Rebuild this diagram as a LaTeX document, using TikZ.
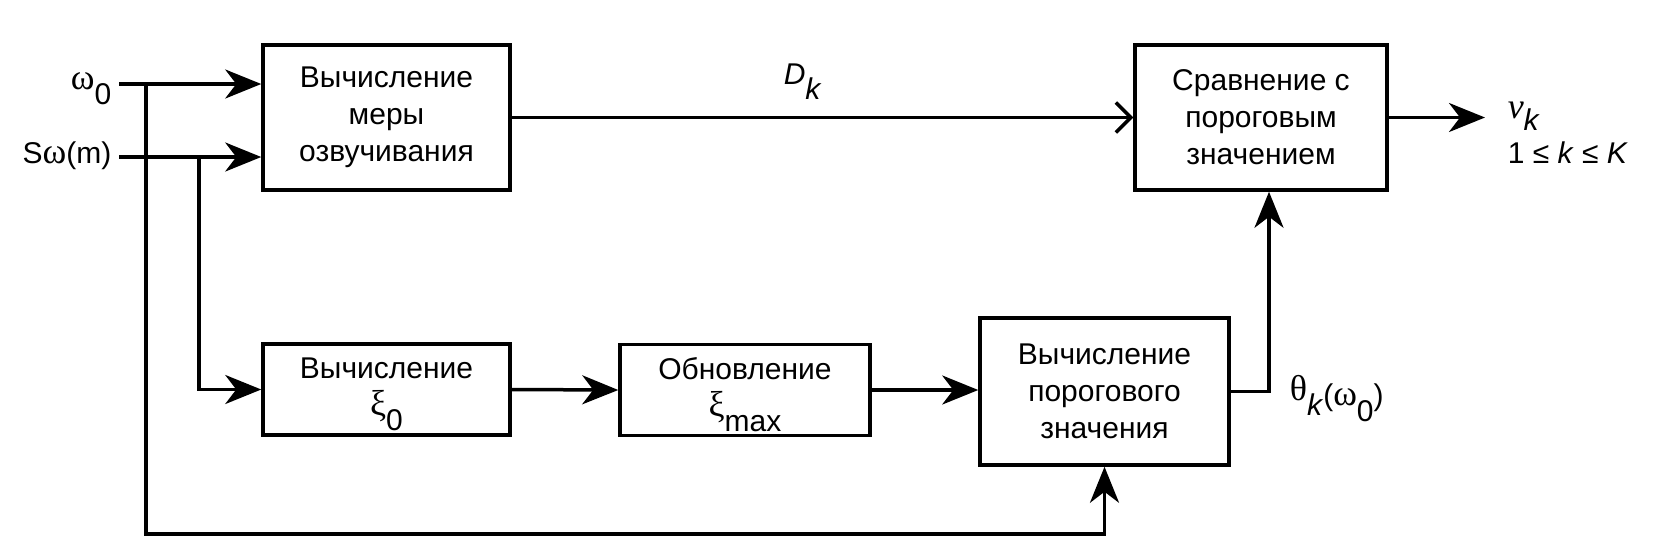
\documentclass[tikz,border=0pt]{standalone}
\usepackage{fontspec}
\setmainfont{Liberation Sans}
\newfontfamily\grk[Scale=1.2]{Liberation Serif}
\usetikzlibrary{arrows.meta}
\newcommand{\lo}[1]{\smash{\raisebox{-0.52em}{#1}}}

\begin{document}
\begin{tikzpicture}[x=1pt, y=-1pt, line width=3.5pt,
    blok/.style={draw, rectangle, align=center, inner sep=0pt,
      font=\fontsize{30}{37}\selectfont},
    lbl/.style={inner sep=0pt, font=\fontsize{30}{37}\selectfont},
    pil/.style={-{Stealth[length=36pt, width=29pt, inset=11pt]}}]
  \useasboundingbox (0,0) rectangle (1654,555);
  \node[blok, minimum width=247pt, minimum height=145pt] (mera) at (386.5,117.5) {Вычисление\\меры\\озвучивания};
  \node[blok, minimum width=252pt, minimum height=145pt] (sravn) at (1261,117.5) {Сравнение с\\пороговым\\значением};
  \node[blok, minimum width=247pt, minimum height=91pt] (xi0) at (386.5,389.5) {Вычисление\\{\grk ξ}\lo{0}};
  \node[blok, minimum width=250pt, minimum height=91pt] (ximax) at (745,390) {Обновление\\{\grk ξ}\lo{max}};
  \node[blok, minimum width=249pt, minimum height=147pt] (porog) at (1104.5,391.5) {Вычисление\\порогового\\значения};

  \coordinate (w0) at (119,84);
  \coordinate (sw) at (119,157);
  \coordinate (j1) at (146,84);
  \coordinate (j2) at (199,157);
  \coordinate (bot) at (146,534);
  \coordinate (out) at (1485,117.5);

  \draw[pil] (w0) -- (w0 -| mera.west);
  \draw[pil] (sw) -- (sw -| mera.west);
  \draw[pil] (j1) -- (bot) -| (porog.south);
  \draw[pil] (j2) |- (xi0.west);
  \draw[pil] (xi0.east) -- (ximax.west);
  \draw[pil] (ximax.east) -- (ximax.east -| porog.west);
  \draw[pil] (porog.east) -| ([xshift=8pt]sravn.south);
  \draw[-{Straight Barb[length=15pt, width=30pt]}] (mera.east) -- (mera.east -| sravn.west);
  \draw[pil] (sravn.east) -- (out);

  \node[lbl, anchor=base east] (lw0) at (113,89) {{\grk ω}\lo{0}};
  \node[lbl, anchor=base east] (lsw) at (113,163) {S{\grk ω}(m)};
  \node[lbl, anchor=base west] (ldk) at (782,84) {\textit{D}\lo{\textit{k}}};
  \node[lbl, anchor=base west] (lnu) at (1506,118) {{\grk\itshape ν}\smash{\raisebox{-0.4em}{\textit{k}}}};
  \node[lbl, anchor=base west] (lkk) at (1506,163) {1 ≤ \textit{k} ≤ \textit{K}};
  \node[lbl, anchor=base west] (lth) at (1288,400) {{\grk θ}\lo{\textit{k}}\raisebox{-0.18em}{({\grk ω}\lo{0})}};
\end{tikzpicture}
\end{document}
